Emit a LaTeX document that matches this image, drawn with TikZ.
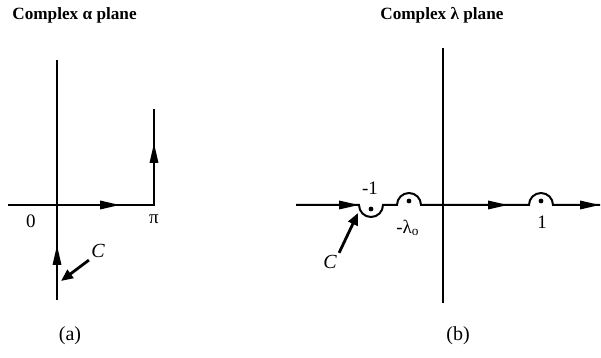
\documentclass[tikz,border=0pt]{standalone}
\usepackage{fontspec}
\setmainfont{Liberation Serif}
\usetikzlibrary{arrows.meta, positioning}
\tikzset{
  axisline/.style={line width=1pt},
  flowarrow/.style={axisline, -{Triangle[length=10pt, width=4.2pt]}},
  ptrarrow/.style={line width=1.4pt, -{Triangle[length=6pt, width=5pt]}},
  titlelabel/.style={font=\fontsize{8.6}{10}\selectfont\bfseries, anchor=west, inner sep=0pt},
  ptlabel/.style={font=\fontsize{9.5}{11}\selectfont, inner sep=1pt},
  panellabel/.style={font=\fontsize{10}{12}\selectfont, inner sep=0pt},
  pole/.style={circle, fill, inner sep=0pt, minimum size=2.4pt},
}

\begin{document}
\begin{tikzpicture}[x=0.5pt, y=-0.5pt]
  \useasboundingbox (0,0) rectangle (601,358);

  % (a) alpha plane
  \node[titlelabel] (atitle) at (12,15) {Complex α plane};
  \coordinate (aTop) at (57,60);
  \coordinate (aBot) at (57,300);
  \coordinate (aUpTip) at (57,245);
  \coordinate (aLeft) at (8,205);
  \coordinate (aRightTip) at (120,205);
  \coordinate (aPi) at (154,205);
  \coordinate (aPiTip) at (154,143);
  \coordinate (aEnd) at (154,109);
  \draw[axisline] (aBot) -- (aTop);
  \draw[axisline] (aLeft) -- (aPi) -- (aEnd);
  \draw[flowarrow] (aBot) -- (aUpTip);
  \draw[flowarrow] (aLeft) -- (aRightTip);
  \draw[flowarrow] (aPi) -- (aPiTip);
  \node[ptlabel] (azero) at (31,221) {0};
  \node[ptlabel] (api) at (154,219) {π};
  \node[ptlabel, font=\fontsize{10}{11}\selectfont\itshape] (ac) at (98,251) {C};
  \coordinate (acTip) at (61,281);
  \draw[ptrarrow] (ac.south west) -- (acTip);
  \node[panellabel] (alab) at (70,336) {(a)};

  % (b) lambda plane
  \node[titlelabel] (btitle) at (380,15) {Complex λ plane};
  \coordinate (bTop) at (443,48);
  \coordinate (bBot) at (443,303);
  \draw[axisline] (bTop) -- (bBot);
  \coordinate (bLeft) at (296,205);
  \coordinate (bA) at (359,205);
  \coordinate (bC) at (397,205);
  \coordinate (bD) at (421,205);
  \coordinate (bMidTip) at (508,205);
  \coordinate (bE) at (529,205);
  \coordinate (bF) at (553,205);
  \coordinate (bEnd) at (600,205);
  \draw[axisline] (bLeft) -- (bA) arc[start angle=180, end angle=0, radius=12] -- (bC)
    arc[start angle=180, end angle=360, radius=12] -- (bE)
    arc[start angle=180, end angle=360, radius=12] -- (bEnd);
  \draw[flowarrow] (bLeft) -- (bA);
  \draw[flowarrow] (bD) -- (bMidTip);
  \draw[flowarrow] (bF) -- (bEnd);
  \node[pole] (pminus) at (371,209) {};
  \node[pole] (plam) at (409,201) {};
  \node[pole] (pone) at (541,201) {};
  \node[ptlabel] (lminus) at (370,188) {-1};
  \node[ptlabel] (llam) at (408,228) {-λ\textsubscript{o}};
  \node[ptlabel] (lone) at (542,222) {1};
  \node[ptlabel, font=\fontsize{10}{11}\selectfont\itshape] (bc) at (330,262) {C};
  \coordinate (bcTip) at (358,213);
  \draw[ptrarrow] (bc.north east) -- (bcTip);
  \node[panellabel] (blab) at (458,336) {(b)};
\end{tikzpicture}
\end{document}
